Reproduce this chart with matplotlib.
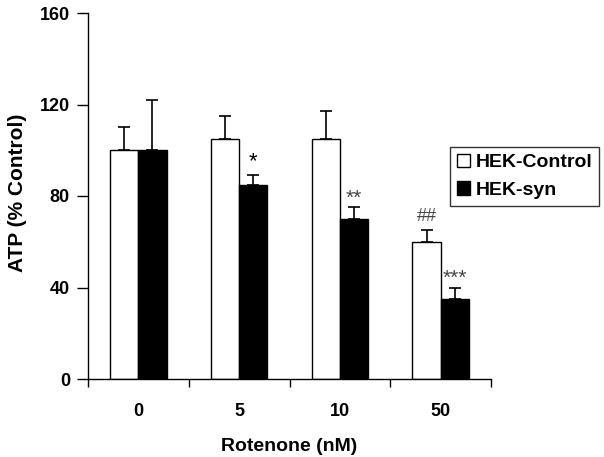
import matplotlib
matplotlib.use("Agg")
import matplotlib.pyplot as plt
import numpy as np

# Data
doses = ['0', '5', '10', '50']
control = [100, 105, 105, 60]
control_err = [10, 10, 12, 5]
syn = [100, 85, 70, 35]
syn_err = [22, 4, 5, 5]
control_marks = ['', '', '', '##']
syn_marks = ['', '*', '**', '***']

plt.rcParams['font.family'] = ['Liberation Sans', 'DejaVu Sans']
plt.rcParams['font.weight'] = 'bold'

fig = plt.figure(figsize=(6.04, 4.57), dpi=100)
ax = fig.add_axes([88 / 604, 1 - 379 / 457, (491 - 88) / 604, (379 - 13) / 457])

x = np.arange(len(doses))
w = 0.28
ax.bar(x - w / 2, control, w, color='white', edgecolor='black', linewidth=1.0,
       label='HEK-Control', zorder=2)
ax.bar(x + w / 2, syn, w, color='black', edgecolor='black', linewidth=1.0,
       label='HEK-syn', zorder=2)
ax.errorbar(x - w / 2, control, yerr=[np.zeros(4), control_err], fmt='none',
            ecolor='black', elinewidth=1.2, capsize=4, capthick=1.2, zorder=1)
ax.errorbar(x + w / 2, syn, yerr=[np.zeros(4), syn_err], fmt='none',
            ecolor='black', elinewidth=1.2, capsize=4, capthick=1.2, zorder=1)

# significance marks
for i in range(len(doses)):
    if control_marks[i]:
        ax.text(x[i] - w / 2, control[i] + control_err[i] + 2.5, control_marks[i],
                ha='center', va='bottom', fontsize=13, color='#444444',
                fontweight='normal')
    if syn_marks[i]:
        off = 1.5 if i == 1 else 0
        ax.text(x[i] + w / 2, syn[i] + syn_err[i] + off, syn_marks[i],
                ha='center', va='bottom', fontsize=16 if i == 1 else 15,
                color='black' if i == 1 else '#444444', fontweight='normal')

ax.set_xlim(-0.5, 3.5)
ax.set_ylim(0, 160)
ax.set_yticks([0, 40, 80, 120, 160])
ax.set_xticks([-0.5, 0.5, 1.5, 2.5, 3.5])
ax.set_xticklabels([])
ax.set_xticks(x, minor=True)
ax.set_xticklabels(doses, minor=True)
ax.tick_params(axis='x', which='minor', length=0, pad=17, labelsize=13)
ax.tick_params(axis='x', which='major', length=6, width=1)
ax.tick_params(axis='y', length=8, width=1, labelsize=13, pad=5)
for s in ['top', 'right']:
    ax.spines[s].set_visible(False)
for s in ['left', 'bottom']:
    ax.spines[s].set_linewidth(1.0)

ax.set_xlabel('Rotenone (nM)', fontsize=14, fontweight='bold', labelpad=13)
ax.set_ylabel('ATP (% Control)', fontsize=15, fontweight='bold')
ax.yaxis.set_label_coords(-0.152, 0.51)

leg = ax.legend(loc='upper left', bbox_to_anchor=(450 / 604, 1 - 147 / 457),
                bbox_transform=fig.transFigure, fontsize=14, frameon=True,
                fancybox=False, edgecolor='black', handlelength=0.7,
                handleheight=0.7, handletextpad=0.25, borderpad=0.35,
                labelspacing=0.5, borderaxespad=0)
leg.get_frame().set_linewidth(1.0)

fig.savefig('out.png', dpi=100)
